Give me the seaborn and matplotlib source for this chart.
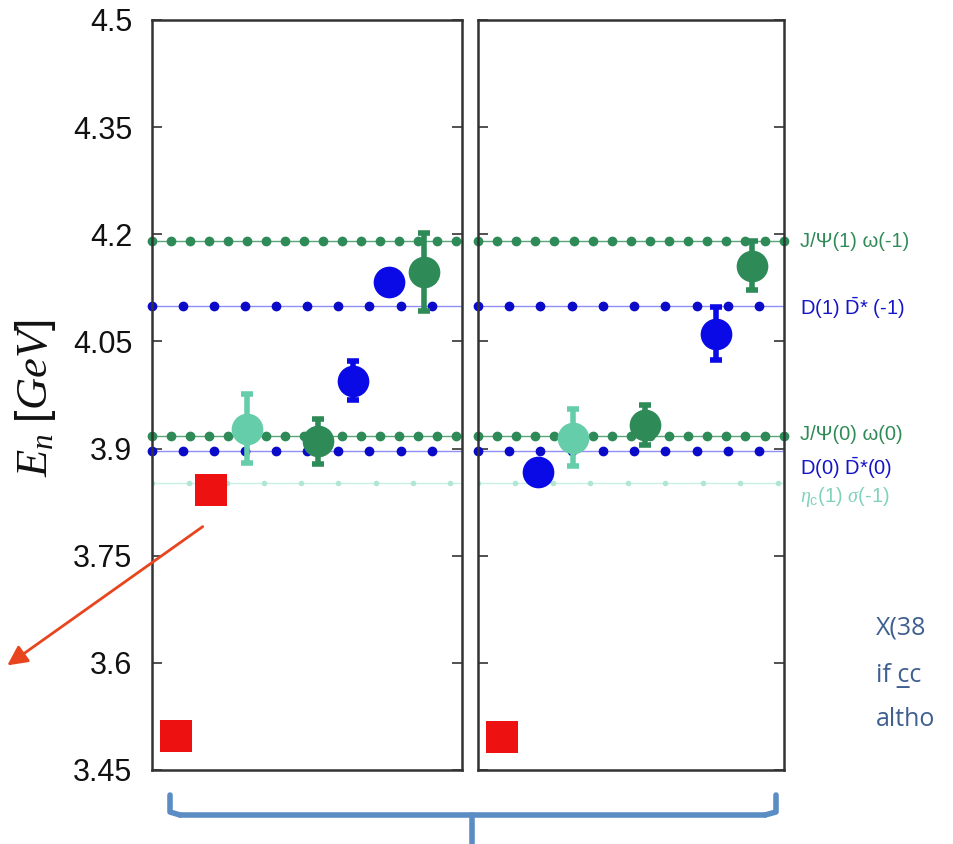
import numpy as np
import pandas as pd
import seaborn as sns
import matplotlib
matplotlib.use("Agg")
import matplotlib.pyplot as plt
from matplotlib.patches import FancyArrowPatch
from matplotlib.lines import Line2D

sns.set_style("ticks")
plt.rcParams['font.family'] = ['Liberation Sans', 'DejaVu Sans']
plt.rcParams['mathtext.fontset'] = 'custom'
plt.rcParams['mathtext.rm'] = 'Liberation Sans'
plt.rcParams['mathtext.sf'] = 'Liberation Sans'
plt.rcParams['mathtext.it'] = 'Liberation Serif:italic'
plt.rcParams['mathtext.bf'] = 'Liberation Sans:bold'

# ---------------- data ----------------
yticks = [3.45, 3.6, 3.75, 3.9, 4.05, 4.2, 4.35, 4.5]
ytick_labels = ["3.45", "3.6", "3.75", "3.9", "4.05", "4.2", "4.35", "4.5"]

# thresholds (non-interacting levels)
thr_names = ["J/\u03a8(1) \u03c9(-1)", r"D(1) $\bar{\mathrm{D}}$* (-1)",
             "J/\u03a8(0) \u03c9(0)", r"D(0) $\bar{\mathrm{D}}$*(0)",
             r"$\eta_{\mathrm{c}}$(1) $\sigma$(-1)"]
thr_values = [4.190, 4.100, 3.917, 3.896, 3.852]
thr_kind = ["green", "blue", "green", "blue", "teal"]
thr_label_y = [4.190, 4.096, 3.920, 3.873, 3.832]

# left panel levels
left_x = [1, 2, 3, 5, 6, 7, 8]
left_E = [3.497, 3.842, 3.928, 3.910, 3.995, 4.133, 4.147]
left_err = [0.0, 0.0, 0.048, 0.032, 0.027, 0.0, 0.055]
left_kind = ["red", "red", "teal", "green", "blue", "blue", "green"]

# right panel levels
right_x = [1, 2, 3, 5, 7, 8]
right_E = [3.496, 3.867, 3.915, 3.933, 4.061, 4.156]
right_err = [0.0, 0.010, 0.040, 0.028, 0.037, 0.034]
right_kind = ["red", "blue", "teal", "green", "blue", "green"]

# side text (cut off in the reference)
side_lines = ["X(38", "if c\u0332c", "altho"]

colors = {"red": "#ee1111", "blue": "#0a0ae6", "green": "#2e8b57", "teal": "#66cdaa"}
line_colors = {"blue": "#8f8ff5", "green": "#5aa57a", "teal": "#c8f0e4"}
dot_colors = {"blue": "#0a0ac8", "green": "#2e8b57", "teal": "#b0e6d6"}
dot_spacing = {"blue": 0.875, "green": 0.535, "teal": 1.05}
dot_size = {"blue": 6, "green": 6, "teal": 3}
markers = {"red": "s", "blue": "o", "green": "o", "teal": "o"}
msize = {"red": 500, "blue": 520, "green": 520, "teal": 520}

W, H = 954, 844
fig = plt.figure(figsize=(W / 100, H / 100), dpi=100)
axL = fig.add_axes([152 / W, 1 - 770 / H, 310 / W, 750 / H])
axR = fig.add_axes([478 / W, 1 - 770 / H, 306 / W, 750 / H])

def draw_panel(ax, xs, Es, errs, kinds, xlim):
    ax.set_xlim(*xlim)
    ax.set_ylim(3.45, 4.5)
    for v, k in zip(thr_values, thr_kind):
        ax.axhline(v, color=line_colors[k], lw=1.0, zorder=1)
        pts = np.arange(xlim[0], xlim[1] + 1e-6, dot_spacing[k])
        ax.plot(pts, [v] * len(pts), ls="none", marker="o", ms=dot_size[k],
                color=dot_colors[k], zorder=2, clip_on=False if k != "teal" else True)
    df = pd.DataFrame({"x": xs, "E": Es, "err": errs, "kind": kinds})
    for k in ["red", "teal", "green", "blue"]:
        sub = df[df.kind == k]
        if sub.empty:
            continue
        eb = sub[sub.err > 0]
        if not eb.empty:
            ax.errorbar(eb.x, eb.E, yerr=eb.err, fmt="none", ecolor=colors[k],
                        elinewidth=4, capsize=4, capthick=4, zorder=3)
        sns.scatterplot(data=sub, x="x", y="E", ax=ax, color=colors[k],
                        marker=markers[k], s=msize[k], edgecolor=colors[k],
                        linewidth=0, zorder=4, legend=False)
    ax.set_xticks([])
    ax.set_xlabel("")
    ax.set_ylabel("")
    ax.set_yticks(yticks)
    ax.tick_params(axis="y", direction="in", length=7, width=1.2, left=True, right=True,
                   colors="#333333", labelsize=22, labelcolor="#111111", pad=14)
    for s in ax.spines.values():
        s.set_color("#333333")
        s.set_linewidth(1.8)

draw_panel(axL, left_x, left_E, left_err, left_kind, (0.33, 9.06))
draw_panel(axR, right_x, right_E, right_err, right_kind, (0.33, 8.9))
axL.set_yticklabels(ytick_labels)
axR.set_yticklabels([])

# threshold labels on the right
for name, ly, k in zip(thr_names, thr_label_y, thr_kind):
    axR.annotate(name, xy=(1, ly), xycoords=("axes fraction", "data"),
                 xytext=(16, 0), textcoords="offset pixels", va="center", ha="left",
                 fontsize=14.5, color={"green": "#2e8b57", "blue": "#1414c8",
                                       "teal": "#7fd3bb"}[k], annotation_clip=False)

# y label
fig.text(36 / W, 1 - 398 / H, r"$E_n\ \mathit{[GeV]}$", rotation=90, fontsize=32,
         ha="center", va="center", color="#111111")

# red arrow
arrow = FancyArrowPatch((205 / W, 1 - 525 / H), (5 / W, 1 - 667 / H),
                        transform=fig.transFigure, arrowstyle="-|>,head_length=12,head_width=6",
                        color="#e8451e", lw=2, mutation_scale=1)
fig.patches.append(arrow)

# bottom brace
bc = "#5b8cc4"
fig.add_artist(Line2D([170 / W, 170 / W, 180 / W], [1 - 795 / H, 1 - 812 / H, 1 - 815 / H],
                      transform=fig.transFigure, color=bc, lw=4, solid_capstyle="round"))
fig.add_artist(Line2D([180 / W, 765 / W], [1 - 815 / H, 1 - 815 / H],
                      transform=fig.transFigure, color=bc, lw=4))
fig.add_artist(Line2D([765 / W, 776 / W, 776 / W], [1 - 815 / H, 1 - 812 / H, 1 - 795 / H],
                      transform=fig.transFigure, color=bc, lw=4, solid_capstyle="round"))
fig.add_artist(Line2D([472 / W, 472 / W], [1 - 815 / H, 1 - 844 / H],
                      transform=fig.transFigure, color=bc, lw=4))

side_c = "#3f5f8f"
for txt, yy in zip(side_lines, [628, 675, 720]):
    fig.text(876 / W, 1 - yy / H, txt, fontsize=18, color=side_c, ha="left", va="center",
             family=["Open Sans", "DejaVu Sans"])

fig.savefig("out.png", dpi=100)
